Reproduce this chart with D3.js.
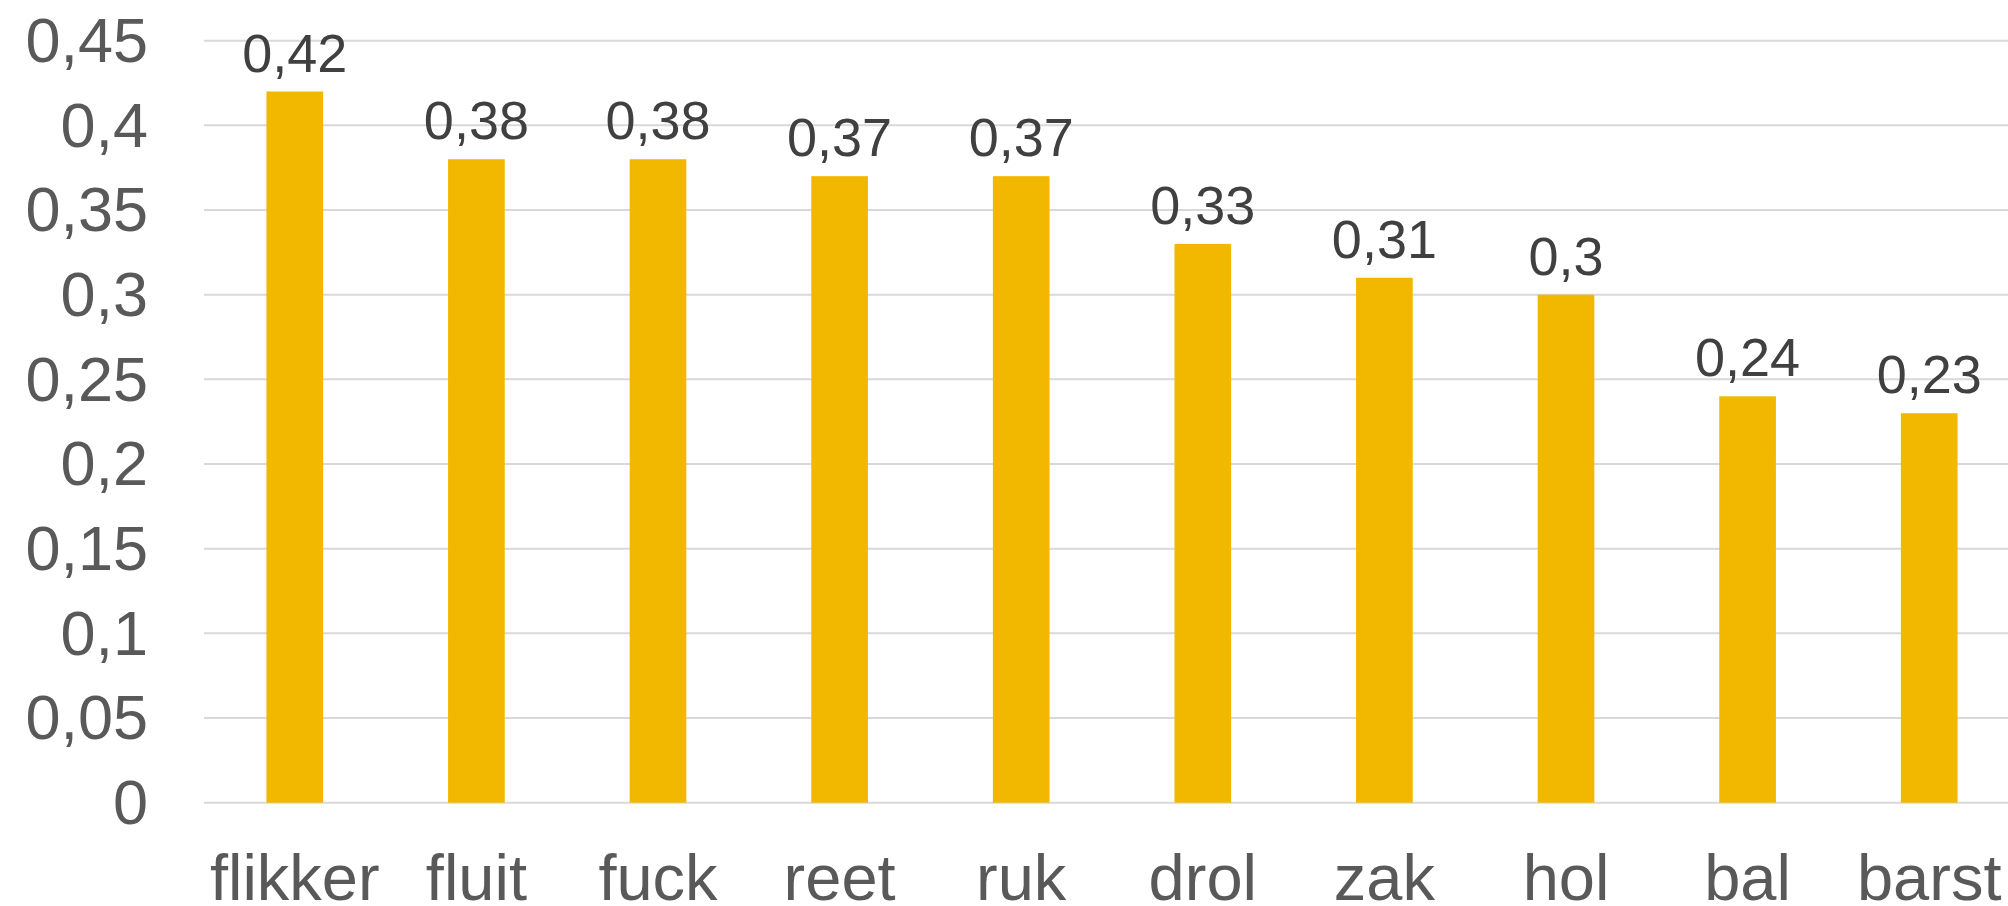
<!DOCTYPE html>
<html>
<head>
<meta charset="utf-8">
<script src="https://cdn.jsdelivr.net/npm/d3@7"></script>
<style>
  html, body { margin: 0; padding: 0; background: #ffffff; overflow: hidden; }
  svg { display: block; }
</style>
</head>
<body>
<svg id="chart" width="2008" height="906"></svg>
<script>
const categories = ["flikker", "fluit", "fuck", "reet", "ruk", "drol", "zak", "hol", "bal", "barst"];
const values = [0.42, 0.38, 0.38, 0.37, 0.37, 0.33, 0.31, 0.30, 0.24, 0.23];
const yTicks = [0, 0.05, 0.1, 0.15, 0.2, 0.25, 0.3, 0.35, 0.4, 0.45];

const svg = d3.select("#chart");
const fmt = v => String(+v.toFixed(2)).replace(".", ",");
const FONT = "'Liberation Sans', Arial, sans-serif";

const x = d3.scaleBand()
  .domain(categories)
  .range([204, 2020])
  .paddingInner(0.688)
  .paddingOuter(0.344);

const y = d3.scaleLinear()
  .domain([0, 0.45])
  .range([802.7, 40.7]);

// gridlines
svg.append("g")
  .selectAll("line")
  .data(yTicks)
  .join("line")
  .attr("x1", 204)
  .attr("x2", 2008)
  .attr("y1", d => y(d))
  .attr("y2", d => y(d))
  .attr("stroke", "#d9d9d9")
  .attr("stroke-width", 2);

// y axis labels
const yAxis = d3.axisLeft(y).tickValues(yTicks).tickFormat(fmt).tickSize(0).tickPadding(0);
const gy = svg.append("g").attr("transform", "translate(148,0)").call(yAxis);
gy.select(".domain").remove();
gy.selectAll("text")
  .attr("font-family", FONT)
  .attr("font-size", 63)
  .attr("fill", "#595959")
  .attr("dy", "0.33em");

// bars
svg.append("g")
  .selectAll("rect")
  .data(values)
  .join("rect")
  .attr("x", (d, i) => x(categories[i]))
  .attr("width", x.bandwidth())
  .attr("y", d => y(d))
  .attr("height", d => y(0) - y(d))
  .attr("fill", "#f2b800");

// data labels
svg.append("g")
  .selectAll("text")
  .data(values)
  .join("text")
  .attr("x", (d, i) => x(categories[i]) + x.bandwidth() / 2)
  .attr("y", d => y(d) - 20)
  .attr("text-anchor", "middle")
  .attr("font-family", FONT)
  .attr("font-size", 54)
  .attr("fill", "#404040")
  .text(d => fmt(d));

// x axis labels
const xAxis = d3.axisBottom(x).tickSize(0).tickPadding(0);
const gx = svg.append("g").attr("transform", "translate(0,900)").call(xAxis);
gx.select(".domain").remove();
gx.selectAll("text")
  .attr("font-family", FONT)
  .attr("font-size", 65)
  .attr("fill", "#595959")
  .attr("dy", 0);
</script>
</body>
</html>
